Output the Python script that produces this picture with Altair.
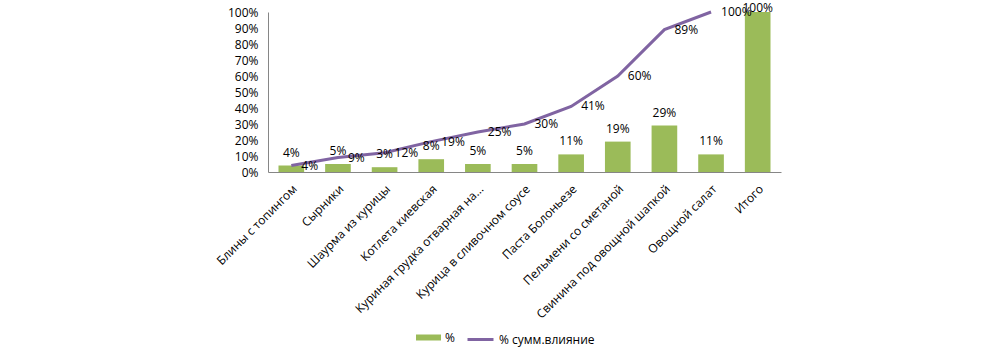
import altair as alt
import pandas as pd

categories = [
    "Блины с топингом",
    "Сырники",
    "Шаурма из курицы",
    "Котлета киевская",
    "Куриная грудка отварная на...",
    "Курица в сливочном соусе",
    "Паста Болоньезе",
    "Пельмени  со сметаной",
    "Свинина под овощной шапкой",
    "Овощной салат",
    "Итого",
]
pct = [0.04, 0.05, 0.03, 0.08, 0.05, 0.05, 0.11, 0.19, 0.29, 0.11, 1.00]
cum = [0.04, 0.09, 0.12, 0.19, 0.25, 0.30, 0.41, 0.60, 0.89, 1.00, None]
y_ticks = [0, 0.1, 0.2, 0.3, 0.4, 0.5, 0.6, 0.7, 0.8, 0.9, 1.0]
series_names = ["%", "% сумм.влияние"]

df = pd.DataFrame({"cat": categories, "pct": pct, "cum": cum})
df["s_bar"] = series_names[0]
df["s_line"] = series_names[1]
df_line = df.dropna(subset=["cum"])

FONT = "Open Sans"
FS = 12
GREEN = "#9BBB59"
PURPLE = "#8064A2"

xscale = alt.Scale(paddingInner=0.45, paddingOuter=0.225)
yscale = alt.Scale(domain=[0, 1], nice=False)

xaxis = alt.Axis(
    title=None,
    labelAngle=-45,
    ticks=False,
    domainColor="#868686",
    labelFont=FONT,
    labelFontSize=FS,
    labelColor="#000000",
    labelPadding=11,
    labelLimit=300,
    labelOverlap=False,
)
yaxis = alt.Axis(
    title=None,
    format=".0%",
    values=y_ticks,
    grid=False,
    ticks=False,
    domainColor="#868686",
    labelFont=FONT,
    labelFontSize=FS,
    labelColor="#000000",
    labelPadding=10,
    labelOverlap=False,
)


def X():
    return alt.X("cat:N", sort=categories, scale=xscale, axis=xaxis)


def Y(field):
    return alt.Y(field + ":Q", scale=yscale, axis=yaxis, title=None)


bars = alt.Chart(df).mark_bar().encode(
    x=X(),
    y=Y("pct"),
    fill=alt.Fill(
        "s_bar:N",
        scale=alt.Scale(domain=[series_names[0]], range=[GREEN]),
        legend=alt.Legend(
            title=None,
            orient="none",
            legendX=148,
            legendY=313,
            symbolType="M-1,-0.24H1V0.24H-1Z",
            symbolSize=625,
            symbolStrokeWidth=0,
            labelFont=FONT,
            labelFontSize=FS,
            labelColor="#000000",
        ),
    ),
)

bar_text = (
    alt.Chart(df)
    .transform_calculate(ly="min(datum.pct, 0.945)")
    .mark_text(dy=-13, font=FONT, fontSize=FS, color="#000000", baseline="middle")
    .encode(
        x=X(),
        y=Y("ly"),
        text=alt.Text("pct:Q", format=".0%"),
    )
)

line = alt.Chart(df_line).mark_line(strokeWidth=3).encode(
    x=X(),
    y=Y("cum"),
    stroke=alt.Stroke(
        "s_line:N",
        scale=alt.Scale(domain=[series_names[1]], range=[PURPLE]),
        legend=alt.Legend(
            title=None,
            orient="none",
            legendX=198,
            legendY=313,
            symbolType="stroke",
            symbolSize=676,
            symbolStrokeWidth=3,
            labelFont=FONT,
            labelFontSize=FS,
            labelColor="#000000",
        ),
    ),
)

line_text = alt.Chart(df_line).mark_text(
    dx=10, align="left", baseline="middle", font=FONT, fontSize=FS, color="#000000"
).encode(
    x=X(),
    y=Y("cum"),
    text=alt.Text("cum:Q", format=".0%"),
)

chart = (
    alt.layer(bars, line, bar_text, line_text)
    .properties(
        width=513,
        height=160,
        autosize=alt.AutoSizeParams(type="none"),
        padding={"left": 268, "top": 12, "right": 219, "bottom": 175},
        background="white",
    )
    .configure_view(stroke=None)
)

chart.save("out.html", embed_options={"renderer": "svg", "actions": False})
